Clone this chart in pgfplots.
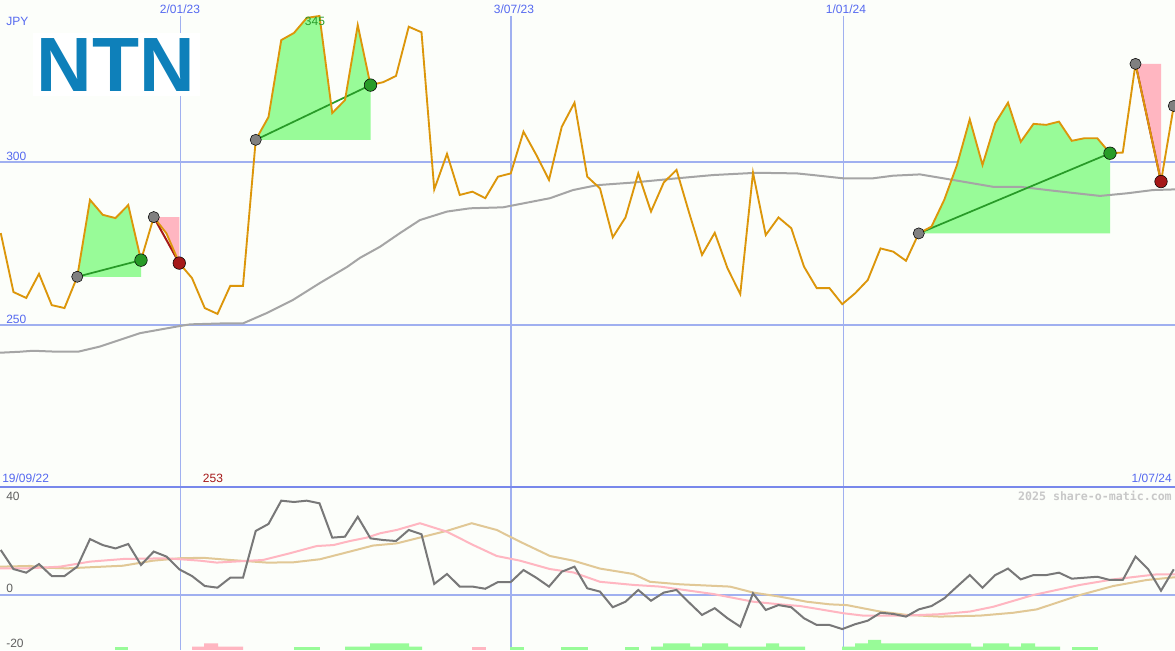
\documentclass[border=0pt]{standalone}
\usepackage{pgfplots}
\pgfplotsset{compat=1.18}
\usepackage{pgfplotstable}
\usepackage{fontspec}
\setmainfont{Liberation Sans}
\newfontfamily\monofont{DejaVu Sans Mono}
\definecolor{bgc}{RGB}{252,254,250}
\definecolor{gridb}{RGB}{160,176,240}
\definecolor{sepb}{RGB}{120,136,235}
\definecolor{txtb}{RGB}{85,105,240}
\definecolor{pricec}{RGB}{220,150,10}
\definecolor{mac}{RGB}{165,165,165}
\definecolor{fillg}{RGB}{152,251,152}
\definecolor{fillp}{RGB}{255,182,193}
\definecolor{sigg}{RGB}{40,155,40}
\definecolor{sigr}{RGB}{165,25,25}
\definecolor{mkg}{RGB}{128,128,128}
\definecolor{momc}{RGB}{120,120,120}
\definecolor{tanc}{RGB}{225,200,150}
\definecolor{logob}{RGB}{14,128,186}
\definecolor{copyc}{RGB}{200,200,200}
\definecolor{labg}{RGB}{95,95,95}

% x = horizontal position of each weekly point (pixels), price (JPY), momentum
\pgfplotstableread{
x price mom
0.75 278.1 18.75
13.5 260.0 10.8
26.25 258.2 9.3
39 265.6 12.9
51.75 256.0 7.9
64.5 255.1 7.9
77.25 264.7 11.8
90 288.3 23.3
102.75 283.7 20.8
115.5 282.7 19.4
128.25 286.7 21.25
141 269.8 12.5
153.75 283.0 18.1
166.5 278.0 16.0
179.25 268.9 10.7
192 264.3 7.9
204.75 255.1 3.75
217.5 253.3 3.05
230.25 261.9 7.2
243 261.9 7.2
255.75 306.7 26.7
268.5 313.7 29.6
281.25 337.3 39.3
294 339.5 38.75
306.75 344.1 39.3
319.5 344.7 38.2
332.25 314.9 23.9
345 318.9 24.3
357.75 341.9 32.6
370.5 323.5 23.6
383.25 324.4 22.9
396 326.3 22.5
408.75 341.4 27.1
421.5 339.7 25.3
434.25 291.5 4.6
447 302.4 8.75
459.75 289.8 3.5
472.5 290.8 3.5
485.25 288.8 2.6
498 295.4 5.4
510.75 296.4 5.4
523.5 309.2 10.4
536.25 302.1 7.2
549 294.4 3.5
561.75 310.7 9.7
574.5 318.1 11.8
587.25 295.4 2.8
600 291.8 1.4
612.75 276.8 -5.1
625.5 282.9 -2.8
638.25 296.4 2.1
651 284.7 -2.4
663.75 293.6 1.0
676.5 297.5 2.1
689.25 284.2 -3.2
702 271.4 -8.3
714.75 278.2 -5.5
727.5 267.3 -9.7
740.25 259.4 -13.2
753 296.6 0.7
765.75 277.5 -6.25
778.5 282.9 -4.2
791.25 279.6 -5.1
804 267.8 -9.7
816.75 261.2 -12.5
829.5 261.2 -12.5
842.25 256.3 -14.2
855 259.6 -12.2
867.75 263.7 -10.7
880.5 273.4 -7.4
893.25 272.4 -7.9
906 269.6 -9.0
918.75 278.0 -6.0
931.5 280.1 -4.6
944.25 288.3 -1.4
957 299.0 3.5
969.75 313.0 8.3
982.5 299.0 3.05
995.25 311.8 8.3
1008 318.1 11.0
1020.75 306.1 6.5
1033.5 311.6 8.3
1046.25 311.3 8.3
1059 312.3 9.3
1071.75 306.4 6.8
1084.5 307.2 7.2
1097.25 307.2 7.6
1110 302.6 6.25
1122.75 302.8 6.25
1135.5 330.0 16.0
1148.25 312.0 10.7
1161 293.9 1.8
1173.75 317.1 10.7
}\pricetab

\pgfplotstableread{
x ma
0 241.4
20 241.7
33 242.0
58 241.7
78 241.7
100 243.3
140 247.4
180 249.6
190 250.1
224 250.4
243 250.4
267 253.6
293 257.6
320 262.8
347 267.7
360 270.5
380 273.9
400 278.1
420 282.1
447 284.7
470 285.7
503 286.0
550 288.8
573 291.3
597 292.8
633 293.6
677 294.9
713 295.9
757 296.6
797 296.4
813 295.9
843 294.9
873 294.9
893 295.7
920 296.1
953 294.4
993 292.3
1020 292.3
1053 291.1
1100 289.5
1127 290.3
1153 291.3
1175 291.5
}\matab

\pgfplotstableread{
x v
0 11.1
26.7 11.1
60 11.8
90 13.9
123.3 15.0
166.7 15.3
200 14.3
216.7 13.5
263.3 14.6
290 17.4
316.7 20.4
333.3 20.8
350 22.5
366.7 23.9
380 25.7
396.7 27.1
420 29.9
446.7 26.4
473.3 20.8
496.7 16.25
520 14.3
550 10.8
573.3 9.4
600 5.5
633.3 4.2
660 3.5
713.3 0.4
753.3 -2.8
780 -3.9
800 -4.6
813.3 -5.5
843.3 -7.6
863.3 -8.6
903.3 -8.6
940 -8.0
970 -6.9
993.3 -4.9
1033.3 0.0
1080 4.2
1113.3 6.5
1156.7 8.6
1175 8.6
}\pinktab

\pgfplotstableread{
x v
0 11.8
30 12.1
43 11.4
67 11.1
87 11.5
123 12.2
153 14.3
180 15.3
203 15.5
230 14.6
267 13.5
293 13.6
320 14.9
350 18.1
373 20.6
396.7 21.5
446.7 26.7
471.7 29.9
496.7 27.1
520 22.2
550 16.25
573.3 14.3
600 11.0
633.3 8.75
650 5.5
680 4.45
730 3.5
753.3 1.0
780 -0.7
806.7 -2.8
830 -3.9
846.7 -4.2
880 -6.9
906.7 -8.3
940 -9.0
980 -8.6
1013.3 -7.4
1036.7 -6.0
1080 0.0
1113.3 3.75
1146.7 6.25
1175 7.4
}\tantab

\begin{document}
\begin{tikzpicture}
\fill[bgc] (0,0) rectangle (881.25pt,487.5pt);
% grid lines (pixel coordinates)
\begin{scope}[x=0.75pt,y=-0.75pt,yshift=487.5pt]
  \draw[gridb,line width=1.5pt] (0,161.7) -- (1175,161.7);
  \draw[gridb,line width=1.5pt] (0,324.7) -- (1175,324.7);
  \draw[gridb,line width=1.5pt] (0,595) -- (1175,595);
  \draw[gridb,line width=0.75pt] (180,16) -- (180,650);
  \draw[gridb,line width=1.5pt] (511,16) -- (511,650);
  \draw[gridb,line width=0.75pt] (843,16) -- (843,650);
  \draw[sepb,line width=1.5pt] (0,487) -- (1175,487);
\end{scope}

\begin{axis}[at={(0pt,122.25pt)}, anchor=south west, scale only axis,
  width=881.25pt, height=365.25pt, xmin=0, xmax=1175, ymin=200.21, ymax=349.60,
  hide axis, clip marker paths=true]
  % trade areas
  \addplot[fill=fillg, draw=none] coordinates {(77.25,264.7) (90,288.3) (102.75,283.7) (115.5,282.7) (128.25,286.7) (141,269.8) (141,264.7)} -- cycle;
  \addplot[fill=fillp, draw=none] coordinates {(153.75,283.0) (179.25,283.0) (179.25,268.9) (166.5,278.0)} -- cycle;
  \addplot[fill=fillg, draw=none] coordinates {(255.75,306.7) (268.5,313.7) (281.25,337.3) (294,339.5) (306.75,344.1) (319.5,344.7) (332.25,314.9) (345,318.9) (357.75,341.9) (370.5,323.5) (370.5,306.7)} -- cycle;
  \addplot[fill=fillg, draw=none] coordinates {(918.75,278.0) (931.5,280.1) (944.25,288.3) (957,299.0) (969.75,313.0) (982.5,299.0) (995.25,311.8) (1008,318.1) (1020.75,306.1) (1033.5,311.6) (1046.25,311.3) (1059,312.3) (1071.75,306.4) (1084.5,307.2) (1097.25,307.2) (1110,302.6) (1110,278.0)} -- cycle;
  \addplot[fill=fillp, draw=none] coordinates {(1135.5,330.0) (1161,330.0) (1161,293.9) (1148.25,312.0)} -- cycle;
  % moving average
  \addplot[mac, line width=1.5pt] table[x=x,y=ma] {\matab};
  % trade lines
  \addplot[sigg, line width=1.3pt] coordinates {(77.25,264.7) (141,269.8)};
  \addplot[sigg, line width=1.3pt] coordinates {(255.75,306.7) (370.5,323.5)};
  \addplot[sigg, line width=1.3pt] coordinates {(918.75,278.0) (1110,302.6)};
  \addplot[sigr, line width=1.5pt] coordinates {(153.75,283.0) (179.25,268.9)};
  \addplot[sigr, line width=1.5pt] coordinates {(1135.5,330.0) (1161,293.9)};
  % price
  \addplot[pricec, line width=1.4pt] table[x=x,y=price] {\pricetab};
  % markers
  \addplot[only marks, mark=*, mark size=4.2pt, mark options={draw=none, fill=mkg}] coordinates {(77.25,264.7) (153.75,283.0) (255.75,306.7) (918.75,278.0) (1135.5,330.0) (1173.75,317.1)};
  \addplot[only marks, mark=*, mark size=4.7pt, mark options={draw=none, fill=sigg}] coordinates {(141,269.8) (370.5,323.5) (1110,302.6)};
  \addplot[only marks, mark=*, mark size=4.7pt, mark options={draw=none, fill=sigr}] coordinates {(179.25,268.9) (1161,293.9)};
\end{axis}

\begin{axis}[at={(0pt,0pt)}, anchor=south west, scale only axis,
  width=881.25pt, height=122.25pt, xmin=0, xmax=1175, ymin=-22.92, ymax=45,
  hide axis]
  % bottom bars
  \addplot[fill=fillg, draw=none] coordinates {(115,-23) (115,-21.54) (128,-21.54) (128,-23)} -- cycle;
  \addplot[fill=fillg, draw=none] coordinates {(294,-23) (294,-21.54) (320,-21.54) (320,-23)} -- cycle;
  \addplot[fill=fillg, draw=none] coordinates {(345,-23) (345,-21.54) (370,-21.54) (370,-20.13) (409,-20.13) (409,-21.54) (422,-21.54) (422,-23)} -- cycle;
  \addplot[fill=fillp, draw=none] coordinates {(192,-23) (192,-21.54) (204,-21.54) (204,-20.13) (218,-20.13) (218,-21.54) (243,-21.54) (243,-23)} -- cycle;
  \addplot[fill=fillp, draw=none] coordinates {(472,-23) (472,-21.54) (486,-21.54) (486,-23)} -- cycle;
  \addplot[fill=fillg, draw=none] coordinates {(510,-23) (510,-21.54) (524,-21.54) (524,-23)} -- cycle;
  \addplot[fill=fillg, draw=none] coordinates {(561,-23) (561,-21.54) (588,-21.54) (588,-23)} -- cycle;
  \addplot[fill=fillg, draw=none] coordinates {(625,-23) (625,-21.54) (639,-21.54) (639,-23)} -- cycle;
  \addplot[fill=fillg, draw=none] coordinates {(651,-23) (651,-21.54) (663,-21.54) (663,-20.13) (690,-20.13) (690,-21.54) (702,-21.54) (702,-20.13) (728,-20.13) (728,-21.54) (766,-21.54) (766,-20.13) (779,-20.13) (779,-21.54) (805,-21.54) (805,-23)} -- cycle;
  \addplot[fill=fillg, draw=none] coordinates {(842,-23) (842,-21.54) (855,-21.54) (855,-20.13) (868,-20.13) (868,-18.75) (881,-18.75) (881,-20.13) (971,-20.13) (971,-21.54) (983,-21.54) (983,-20.13) (1009,-20.13) (1009,-21.54) (1021,-21.54) (1021,-20.13) (1035,-20.13) (1035,-21.54) (1060,-21.54) (1060,-23)} -- cycle;
  \addplot[fill=fillg, draw=none] coordinates {(1072,-23) (1072,-21.54) (1098,-21.54) (1098,-23)} -- cycle;
  % indicator lines
  \addplot[tanc, line width=1.5pt] table[x=x,y=v] {\tantab};
  \addplot[fillp, line width=1.5pt] table[x=x,y=v] {\pinktab};
  \addplot[momc, line width=1.5pt] table[x=x,y=mom] {\pricetab};
\end{axis}

% logo and texts (pixel coordinates)
\begin{scope}[x=0.75pt,y=-0.75pt,yshift=487.5pt]
  \fill[white] (33,33) rectangle (200,96);
  \node[anchor=base, inner sep=0, text=logob] at (116,91.7) {\fontsize{57.75}{60}\selectfont\bfseries NTN};
  \begin{scope}[every node/.style={inner sep=0, font=\fontsize{9}{10}\selectfont}]
    \node[anchor=west, text=txtb] at (6,21) {JPY};
    \node[anchor=west, text=txtb] at (6,156) {300};
    \node[anchor=west, text=txtb] at (6,319) {250};
    \node[text=txtb] at (180,9) {2/01/23};
    \node[text=txtb] at (514,9) {3/07/23};
    \node[text=txtb] at (846,9) {1/01/24};
    \node[text=sigg] at (315,21) {345};
    \node[anchor=west, text=txtb] at (2,478) {19/09/22};
    \node[text=sigr] at (213,478) {253};
    \node[anchor=east, text=txtb] at (1172,478) {1/07/24};
    \node[anchor=west, text=labg] at (6,496) {40};
    \node[anchor=west, text=labg] at (6,588) {0};
    \node[anchor=west, text=labg] at (6,643) {-20};
    \node[anchor=east, text=copyc, font=\fontsize{8.7}{10}\selectfont\monofont\bfseries] at (1172,496) {2025 share-o-matic.com};
  \end{scope}
\end{scope}
\pgfresetboundingbox
\useasboundingbox (0,0) rectangle (881.25pt,487.5pt);
\end{tikzpicture}
\end{document}
